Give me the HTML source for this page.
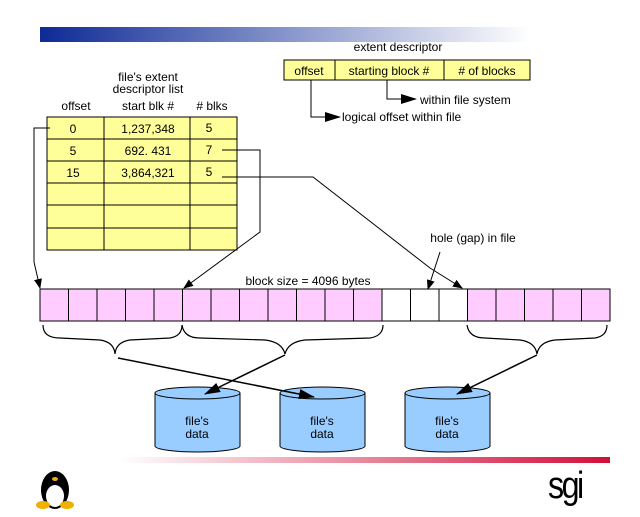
<!DOCTYPE html>
<html><head><meta charset="utf-8"><style>
body{margin:0;background:#fff}
text{font-family:"Liberation Sans",sans-serif;font-size:12px;fill:#000}
</style></head><body>
<svg width="640" height="512" viewBox="0 0 640 512" xmlns="http://www.w3.org/2000/svg">
<defs>
<linearGradient id="gb" x1="0" x2="1"><stop offset="0" stop-color="#0d2a96"/><stop offset="1" stop-color="#ffffff"/></linearGradient>
<linearGradient id="gr" x1="0" x2="1"><stop offset="0" stop-color="#ffffff"/><stop offset="1" stop-color="#d0103a"/></linearGradient>
<marker id="a" markerWidth="10" markerHeight="8" refX="9" refY="4" orient="auto" markerUnits="userSpaceOnUse"><path d="M0,0 L10,4 L0,8 Z" fill="#000"/></marker>
<marker id="b" markerWidth="16" markerHeight="10" refX="15" refY="5" orient="auto" markerUnits="userSpaceOnUse"><path d="M0,0 L16,5 L0,10 Z" fill="#000"/></marker>
</defs>
<rect x="40" y="27" width="490" height="15" fill="url(#gb)"/>
<rect x="120" y="457" width="490" height="6" fill="url(#gr)"/>

<text x="398" y="51" text-anchor="middle">extent descriptor</text>
<rect x="284" y="60" width="246" height="20" fill="#ffff99" stroke="#000"/>
<line x1="335" y1="60" x2="335" y2="80" stroke="#000"/>
<line x1="444" y1="60" x2="444" y2="80" stroke="#000"/>
<text x="309" y="75" text-anchor="middle">offset</text>
<text x="389" y="75" text-anchor="middle">starting block #</text>
<text x="487" y="75" text-anchor="middle"># of blocks</text>
<polyline points="311,80 311,117 340,117" fill="none" stroke="#000" marker-end="url(#b)"/>
<text x="342" y="121">logical offset within file</text>
<polyline points="387,80 387,99 416,99" fill="none" stroke="#000" marker-end="url(#b)"/>
<text x="420" y="104">within file system</text>

<text x="148" y="81" text-anchor="middle">file's extent</text>
<text x="148" y="93" text-anchor="middle">descriptor list</text>
<text x="76" y="110" text-anchor="middle">offset</text>
<text x="148" y="110" text-anchor="middle">start blk #</text>
<text x="212" y="110" text-anchor="middle"># blks</text>
<rect x="47" y="117" width="190" height="133" fill="#ffff99" stroke="#000"/>
<g stroke="#000">
<line x1="104" y1="117" x2="104" y2="250"/><line x1="190" y1="117" x2="190" y2="250"/>
<line x1="47" y1="139" x2="237" y2="139"/><line x1="47" y1="161" x2="237" y2="161"/>
<line x1="47" y1="183" x2="237" y2="183"/><line x1="47" y1="205" x2="237" y2="205"/>
<line x1="47" y1="228" x2="237" y2="228"/>
</g>
<text x="73" y="133" text-anchor="middle">0</text><text x="148" y="133" text-anchor="middle">1,237,348</text><text x="209" y="132" text-anchor="middle">5</text>
<text x="73" y="155" text-anchor="middle">5</text><text x="148" y="155" text-anchor="middle">692. 431</text><text x="209" y="154" text-anchor="middle">7</text>
<text x="73" y="177" text-anchor="middle">15</text><text x="148" y="177" text-anchor="middle">3,864,321</text><text x="209" y="176" text-anchor="middle">5</text>

<polyline points="50,128 34,128 34,262 40,288" fill="none" stroke="#000" marker-end="url(#a)"/>
<polyline points="222,150 260,150 260,232 184,288" fill="none" stroke="#000" marker-end="url(#a)"/>
<polyline points="222,177 313,177 430,268 462,288" fill="none" stroke="#000" marker-end="url(#a)"/>
<text x="473" y="242" text-anchor="middle">hole (gap) in file</text>
<line x1="440" y1="252" x2="428" y2="289" stroke="#000" marker-end="url(#a)"/>
<text x="308" y="285" text-anchor="middle">block size = 4096 bytes</text>

<rect x="40" y="289" width="342" height="32" fill="#ffccff"/>
<rect x="467" y="289" width="143" height="32" fill="#ffccff"/>
<rect x="40" y="289" width="570" height="32" fill="none" stroke="#000"/>
<g stroke="#000">
<line x1="68.5" y1="289" x2="68.5" y2="321"/><line x1="97" y1="289" x2="97" y2="321"/><line x1="125.5" y1="289" x2="125.5" y2="321"/><line x1="154" y1="289" x2="154" y2="321"/><line x1="182.5" y1="289" x2="182.5" y2="321"/><line x1="211" y1="289" x2="211" y2="321"/><line x1="239.5" y1="289" x2="239.5" y2="321"/><line x1="268" y1="289" x2="268" y2="321"/><line x1="296.5" y1="289" x2="296.5" y2="321"/><line x1="325" y1="289" x2="325" y2="321"/><line x1="353.5" y1="289" x2="353.5" y2="321"/><line x1="382" y1="289" x2="382" y2="321"/><line x1="410.5" y1="289" x2="410.5" y2="321"/><line x1="439" y1="289" x2="439" y2="321"/><line x1="467.5" y1="289" x2="467.5" y2="321"/><line x1="496" y1="289" x2="496" y2="321"/><line x1="524.5" y1="289" x2="524.5" y2="321"/><line x1="553" y1="289" x2="553" y2="321"/><line x1="581.5" y1="289" x2="581.5" y2="321"/>
</g>
<g fill="none" stroke="#000" stroke-width="1.2">
<path d="M43,325 Q43,338 60,338 L100,340 Q114,342 115,354 Q116,342 130,340 L170,338 Q182,336 182,325"/>
<path d="M182,325 Q184,338 200,338 L265,340 Q282,342 285,354 Q288,342 305,340 L370,338 Q383,336 383,325"/>
<path d="M467,325 Q469,338 485,338 L520,340 Q535,342 537,354 Q539,342 555,340 L595,338 Q607,336 607,325"/>
</g>

<g stroke="#000" fill="#99ccff">
<path d="M155,393 L155,446 A42.5,6 0 0 0 240,446 L240,393"/><ellipse cx="197.5" cy="393" rx="42.5" ry="6"/>
<path d="M280,393 L280,446 A42.5,6 0 0 0 365,446 L365,393"/><ellipse cx="322.5" cy="393" rx="42.5" ry="6"/>
<path d="M405,393 L405,446 A42.5,6 0 0 0 490,446 L490,393"/><ellipse cx="447.5" cy="393" rx="42.5" ry="6"/>
</g>
<text x="197" y="425" text-anchor="middle">file's</text><text x="197" y="438" text-anchor="middle">data</text>
<text x="322" y="425" text-anchor="middle">file's</text><text x="322" y="438" text-anchor="middle">data</text>
<text x="447" y="425" text-anchor="middle">file's</text><text x="447" y="438" text-anchor="middle">data</text>

<line x1="118" y1="358" x2="314" y2="397" stroke="#000" stroke-width="1.5" marker-end="url(#b)"/>
<line x1="285" y1="355" x2="205" y2="394" stroke="#000" stroke-width="1.5" marker-end="url(#b)"/>
<line x1="537" y1="355" x2="457" y2="394" stroke="#000" stroke-width="1.5" marker-end="url(#b)"/>

<ellipse cx="55" cy="490" rx="14" ry="19" fill="#000"/>
<ellipse cx="55" cy="496" rx="9" ry="11" fill="#fff"/>
<ellipse cx="55" cy="479" rx="3" ry="2" fill="#f0b000"/>
<ellipse cx="43" cy="505" rx="7" ry="4" fill="#f0b000"/>
<ellipse cx="67" cy="505" rx="7" ry="4" fill="#f0b000"/>
<text x="548" y="498" style="font-size:38px;letter-spacing:-3px" transform="translate(548 0) scale(0.85 1) translate(-548 0)">sgi</text>
</svg>
</body></html>
